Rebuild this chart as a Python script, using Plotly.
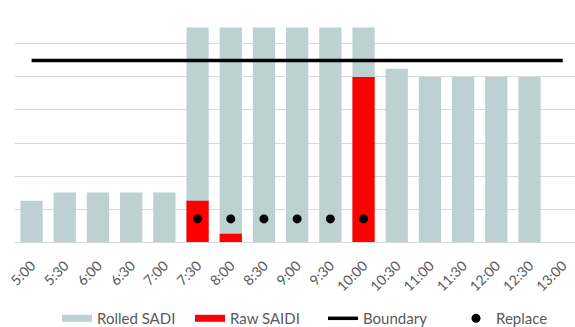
import plotly.graph_objects as go

# Half-hour slots
times = ["5:00", "5:30", "6:00", "6:30", "7:00", "7:30", "8:00", "8:30", "9:00",
         "9:30", "10:00", "10:30", "11:00", "11:30", "12:00", "12:30", "13:00"]

rolled_sadi = [1.25, 1.5, 1.5, 1.5, 1.5, 6.5, 6.5, 6.5, 6.5, 6.5, 6.5,
               5.25, 5.0, 5.0, 5.0, 5.0, None]
raw_saidi = [None, None, None, None, None, 1.25, 0.25, None, None, None, 5.0,
             None, None, None, None, None, None]
boundary = [5.5] * len(times)
replace = [None, None, None, None, None, 0.7, 0.7, 0.7, 0.7, 0.7, 0.7,
           None, None, None, None, None, None]

GREY_BLUE = "#BDD0D2"
RED = "#FF0000"
TEXT = "#595959"
GRID = "#D9D9D9"
FONT = "Lato"

fig = go.Figure()

fig.add_trace(go.Bar(x=times, y=rolled_sadi, name="Rolled SADI",
                     marker=dict(color=GREY_BLUE, line=dict(width=0)),
                     width=0.67, showlegend=False))
fig.add_trace(go.Bar(x=times, y=raw_saidi, name="Raw SAIDI",
                     marker=dict(color=RED, line=dict(width=0)),
                     width=0.67, showlegend=False))
fig.add_trace(go.Scatter(x=times, y=boundary, name="Boundary", mode="lines",
                         line=dict(color="black", width=3.5), showlegend=False))
fig.add_trace(go.Scatter(x=times, y=replace, name="Replace", mode="markers",
                         marker=dict(color="black", size=9), showlegend=False))

# Legend entries (wide flat keys for the bar series)
fig.add_trace(go.Scatter(x=[None], y=[None], name="Rolled SADI", mode="lines",
                         line=dict(color=GREY_BLUE, width=7)))
fig.add_trace(go.Scatter(x=[None], y=[None], name="Raw SAIDI", mode="lines",
                         line=dict(color=RED, width=7)))
fig.add_trace(go.Scatter(x=[None], y=[None], name="Boundary", mode="lines",
                         line=dict(color="black", width=3.5)))
fig.add_trace(go.Scatter(x=[None], y=[None], name="Replace", mode="markers",
                         marker=dict(color="black", size=9)))

fig.update_layout(
    width=575, height=327,
    margin=dict(l=15, r=0, t=10, b=85, autoexpand=False),
    paper_bgcolor="white", plot_bgcolor="white",
    barmode="overlay",
    font=dict(family=FONT, color=TEXT, size=14),
    legend=dict(orientation="h", x=0.075, xanchor="left", y=-0.33,
                yanchor="middle", font=dict(size=15, color=TEXT),
                itemwidth=30, tracegroupgap=0, entrywidth=88),
)
fig.update_xaxes(type="category", categoryorder="array", categoryarray=times,
                 range=[-0.5, 16.37], tickangle=-45, showgrid=False,
                 automargin=False,
                 showline=True, linecolor=GRID, linewidth=1,
                 ticks="outside", ticklen=9, tickcolor="rgba(0,0,0,0)",
                 tickfont=dict(size=14, color=TEXT, family=FONT))
fig.update_yaxes(range=[0, 7.03], dtick=1, showgrid=True, gridcolor=GRID,
                 gridwidth=1, zeroline=False, showticklabels=False,
                 automargin=False)

fig.write_html("out.html")
